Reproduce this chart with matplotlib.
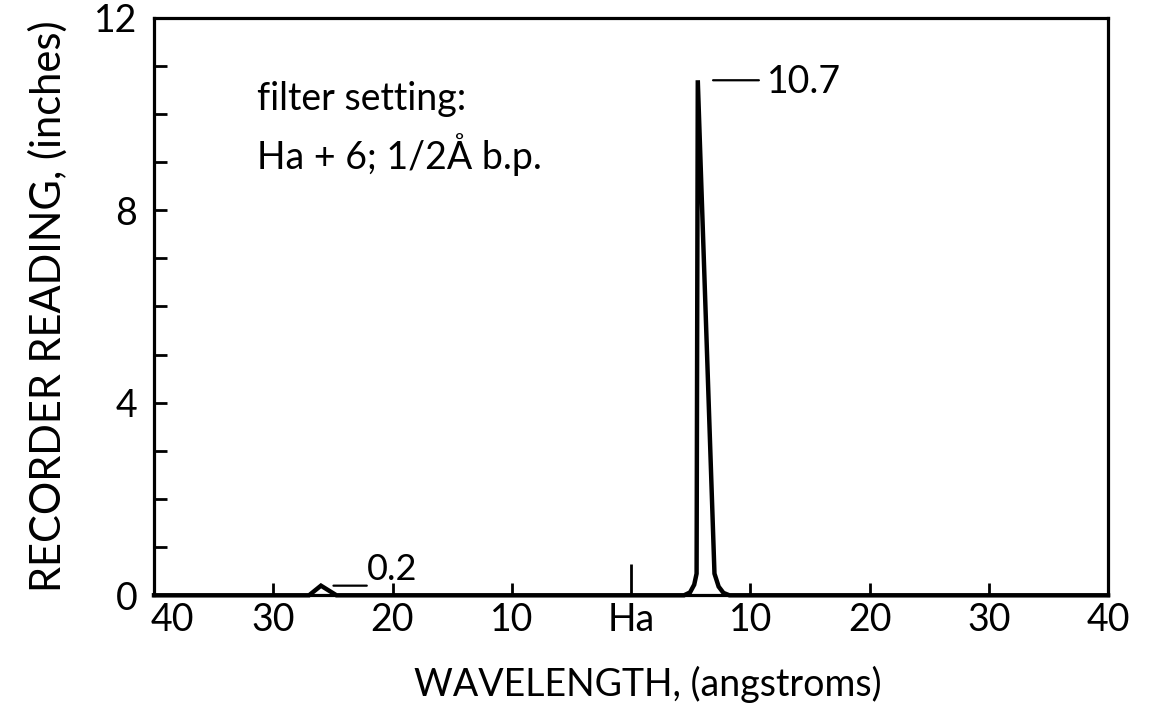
import matplotlib
matplotlib.use("Agg")
import matplotlib.pyplot as plt
import matplotlib.transforms as mtransforms

# ---- data ----
wavelength = [-40, -27.0, -26.0, -24.7, 4.45, 4.95, 5.3, 5.5, 5.6, 7.0, 7.35, 7.75, 8.25, 40]
reading    = [0.0, 0.0, 0.2, 0.0, 0.0, 0.06, 0.22, 0.45, 10.7, 0.45, 0.18, 0.05, 0.0, 0.0]

x_ticks = [-40, -30, -20, -10, 0, 10, 20, 30, 40]
x_tick_labels = ["40", "30", "20", "10", "Ha", "10", "20", "30", "40"]
y_major = [0, 4, 8, 12]
y_minor = list(range(0, 13))

small_peak = (-26.0, 0.2)
big_peak = (5.6, 10.7)
small_label = "0.2"
big_label = "10.7"
filter_lines = ["filter setting:", "Ha + 6; 1/2Å b.p."]

plt.rcParams['font.family'] = ['Lato', 'DejaVu Sans']
plt.rcParams['font.weight'] = 'normal'

fig = plt.figure(figsize=(11.53, 7.07), dpi=100)
ax = fig.add_axes([154/1153, 0.158, 954/1153, 0.817])

ax.plot(wavelength, reading, color='black', lw=3.2, clip_on=False,
        solid_joinstyle='miter', zorder=3)

ax.set_xlim(-40, 40)
ax.set_ylim(0, 12)

for s in ax.spines.values():
    s.set_linewidth(2.3)

ax.set_xticks(x_ticks)
ax.set_xticklabels(x_tick_labels)
ax.set_yticks(y_major)
ax.set_yticks(y_minor, minor=True)

ax.tick_params(axis='x', which='major', direction='in', length=9, width=2.0,
               labelsize=27, pad=5)
ax.tick_params(axis='y', which='major', direction='in', length=9.5, width=2.0,
               labelsize=27, pad=12)
ax.tick_params(axis='y', which='minor', direction='in', length=9.5, width=2.0)

# Ha tick is taller
ax.xaxis.get_major_ticks()[4].tick1line.set_markersize(22)

# first "40" label sits shifted to the right of the corner
lbl = ax.xaxis.get_major_ticks()[0].label1
lbl.set_transform(lbl.get_transform() +
                  mtransforms.ScaledTranslation(18/100, 0, fig.dpi_scale_trans))

ax.set_xlabel("WAVELENGTH, (angstroms)", fontsize=27, labelpad=20)
ax.xaxis.label.set_x(0.518)
ax.set_ylabel("RECORDER READING, (inches)", fontsize=30, labelpad=19)

# annotations
ax.annotate("", xy=big_peak, xytext=(44, 0), textcoords='offset points',
            arrowprops=dict(arrowstyle='-', lw=1.6, color='black',
                            shrinkA=0, shrinkB=11))
ax.annotate(big_label, xy=big_peak, xytext=(50, 1), textcoords='offset points',
            ha='left', va='center_baseline', fontsize=27)

ax.annotate("", xy=small_peak, xytext=(33, 0), textcoords='offset points',
            arrowprops=dict(arrowstyle='-', lw=1.6, color='black',
                            shrinkA=0, shrinkB=9))
ax.annotate(small_label, xy=small_peak, xytext=(33, 14), textcoords='offset points',
            ha='left', va='center_baseline', fontsize=26)

ax.text(0.108, 0.865, filter_lines[0], transform=ax.transAxes, fontsize=27,
        ha='left', va='center_baseline')
ax.text(0.108, 0.770, filter_lines[1], transform=ax.transAxes, fontsize=27,
        ha='left', va='center_baseline')

fig.savefig("out.png", dpi=100)
